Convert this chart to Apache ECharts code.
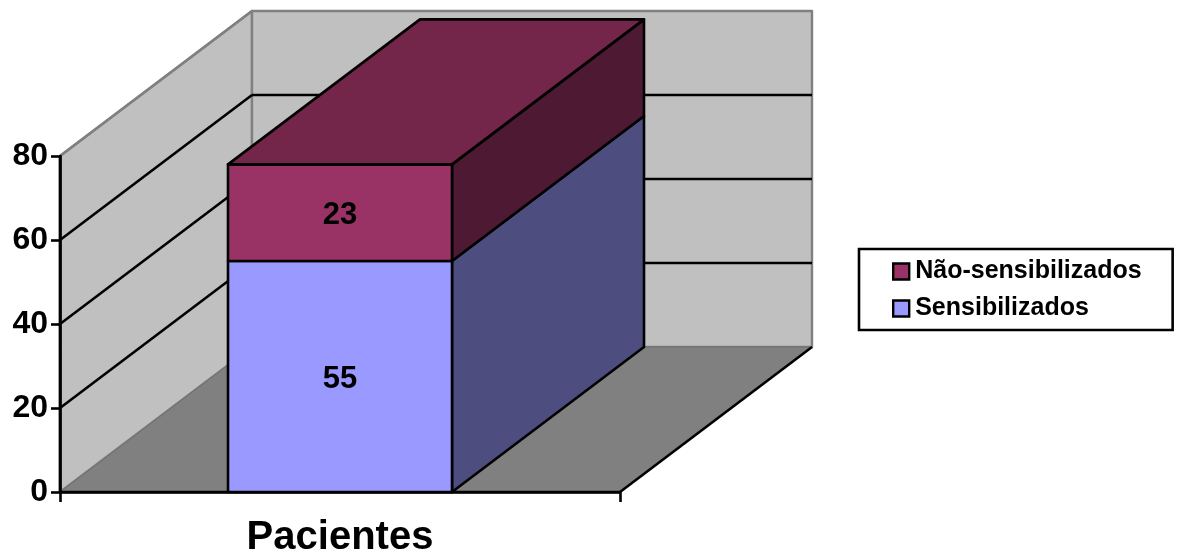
<!DOCTYPE html>
<html>
<head>
<meta charset="utf-8">
<style>html,body{margin:0;padding:0;background:#fff}#chart{width:1177px;height:556px}</style>
<script src="https://cdn.jsdelivr.net/npm/echarts@6/dist/echarts.min.js"></script>
</head>
<body>
<div id="chart"></div>
<script>
// Stacked bar with a hand-built oblique 3D look.
const categories = ['Pacientes'];
const sensibilizados = [55];
const naoSensibilizados = [23];
const yTicks = [0, 20, 40, 60, 80];

const FONT = '"Liberation Sans", Arial, sans-serif';
const DEPTH_X = 192;      // oblique projection of the chart depth
const DEPTH_Y = -145;
const BAR_FRACTION = 0.4; // bar width as a share of the category band
const LINE = 2.6;

const poly = (pts, fill, stroke, width) => ({
  type: 'polygon',
  shape: { points: pts },
  style: { fill, stroke: stroke || null, lineWidth: width === undefined ? LINE : width, lineJoin: 'round' }
});
const seg = (a, b, stroke, width) => ({
  type: 'line',
  shape: { x1: a[0], y1: a[1], x2: b[0], y2: b[1] },
  style: { stroke, lineWidth: width === undefined ? LINE : width }
});
const back = p => [p[0] + DEPTH_X, p[1] + DEPTH_Y];

// Walls, floor and gridlines, all hung off the y scale.
function renderRoom(params, api) {
  const cs = params.coordSys;
  const left = cs.x, right = cs.x + cs.width;
  const y0 = api.coord([0, 0])[1];
  const yMax = api.coord([0, yTicks[yTicks.length - 1]])[1];
  const kids = [];
  kids.push(poly([[left, y0], [left, yMax], back([left, yMax]), back([left, y0])], '#c0c0c0', '#808080', 2.4));
  kids.push(poly([back([left, yMax]), back([right, yMax]), back([right, y0]), back([left, y0])], '#c0c0c0', '#808080', 2.4));
  kids.push(poly([[left, y0], [right, y0], back([right, y0]), back([left, y0])], '#808080', '#6e6e6e', 1));
  yTicks.slice(1, -1).forEach(t => {
    const y = api.coord([0, t])[1];
    kids.push(seg([left, y], back([left, y]), '#000'));
    kids.push(seg(back([left, y]), back([right, y]), '#000'));
  });
  kids.push(seg([left, yMax], back([left, yMax]), '#808080', 2.4));
  kids.push(seg([right, y0], back([right, y0]), '#000'));
  kids.push(seg([left, y0], [right, y0], '#000'));
  kids.push(seg([left, y0], [left, yMax], '#000'));
  return { type: 'group', children: kids };
}

// One stacked segment: front face, side face and, for the top one, the lid.
function barRenderer(front, side, top) {
  return function (params, api) {
    const cat = api.value(0), base = api.value(1), val = api.value(2);
    const cx = api.coord([cat, 0])[0];
    const half = api.size([1, 0])[0] * BAR_FRACTION / 2;
    const yB = api.coord([cat, base])[1];
    const yT = api.coord([cat, base + val])[1];
    const fl = [cx - half, yT], fr = [cx + half, yT], br = [cx + half, yB], bl = [cx - half, yB];
    const kids = [
      poly([fr, br, back(br), back(fr)], side, '#000'),
      poly([fl, fr, br, bl], front, '#000')
    ];
    if (top) kids.push(poly([fl, fr, back(fr), back(fl)], top, '#000'));
    kids.push({
      type: 'text',
      style: {
        x: cx, y: (yB + yT) / 2 + 3, text: String(val),
        align: 'center', verticalAlign: 'middle',
        font: 'bold 31px ' + FONT, fill: '#000'
      }
    });
    return { type: 'group', children: kids };
  };
}

const chart = echarts.init(document.getElementById('chart'), null, { renderer: 'canvas' });
chart.setOption({
  animation: false,
  backgroundColor: '#fff',
  grid: { left: 60, top: 156, width: 560, height: 336, containLabel: false, outerBoundsMode: 'none' },
  xAxis: {
    type: 'category',
    data: categories,
    z: 6,
    axisLine: { lineStyle: { color: '#000', width: LINE } },
    axisTick: { show: true, length: 10, lineStyle: { color: '#000', width: LINE } },
    axisLabel: { color: '#000', fontFamily: FONT, fontWeight: 'bold', fontSize: 40, margin: 26 }
  },
  yAxis: {
    type: 'value',
    min: 0,
    max: 80,
    interval: 20,
    z: 6,
    splitLine: { show: false },
    axisLine: { show: true, lineStyle: { color: '#000', width: LINE } },
    axisTick: { show: true, length: 9, lineStyle: { color: '#000', width: LINE } },
    axisLabel: { color: '#000', fontFamily: FONT, fontWeight: 'bold', fontSize: 32, margin: 12 }
  },
  legend: {
    left: 859,
    top: 249,
    orient: 'vertical',
    padding: [10, 31, 9, 33],
    itemGap: 12,
    itemWidth: 16,
    itemHeight: 16,
    borderColor: '#000',
    borderWidth: 2.6,
    backgroundColor: '#fff',
    selectedMode: false,
    textStyle: { color: '#000', fontFamily: FONT, fontWeight: 'bold', fontSize: 25, padding: [0, 0, 0, 1] },
    data: [
      { name: 'Não-sensibilizados', icon: 'rect', itemStyle: { color: '#993366', borderColor: '#000', borderWidth: 2.4 } },
      { name: 'Sensibilizados', icon: 'rect', itemStyle: { color: '#9999ff', borderColor: '#000', borderWidth: 2.4 } }
    ]
  },
  series: [
    { type: 'custom', name: 'room', silent: true, z: 1, clip: false, renderItem: renderRoom, data: [[0]] },
    {
      type: 'custom', name: 'Sensibilizados', z: 2, clip: false,
      itemStyle: { color: '#9999ff' },
      renderItem: barRenderer('#9999ff', '#4d4d80', null),
      data: sensibilizados.map((v, i) => [i, 0, v])
    },
    {
      type: 'custom', name: 'Não-sensibilizados', z: 3, clip: false,
      itemStyle: { color: '#993366' },
      renderItem: barRenderer('#993366', '#4d1933', '#732649'),
      data: naoSensibilizados.map((v, i) => [i, sensibilizados[i], v])
    }
  ]
});
</script>
</body>
</html>
